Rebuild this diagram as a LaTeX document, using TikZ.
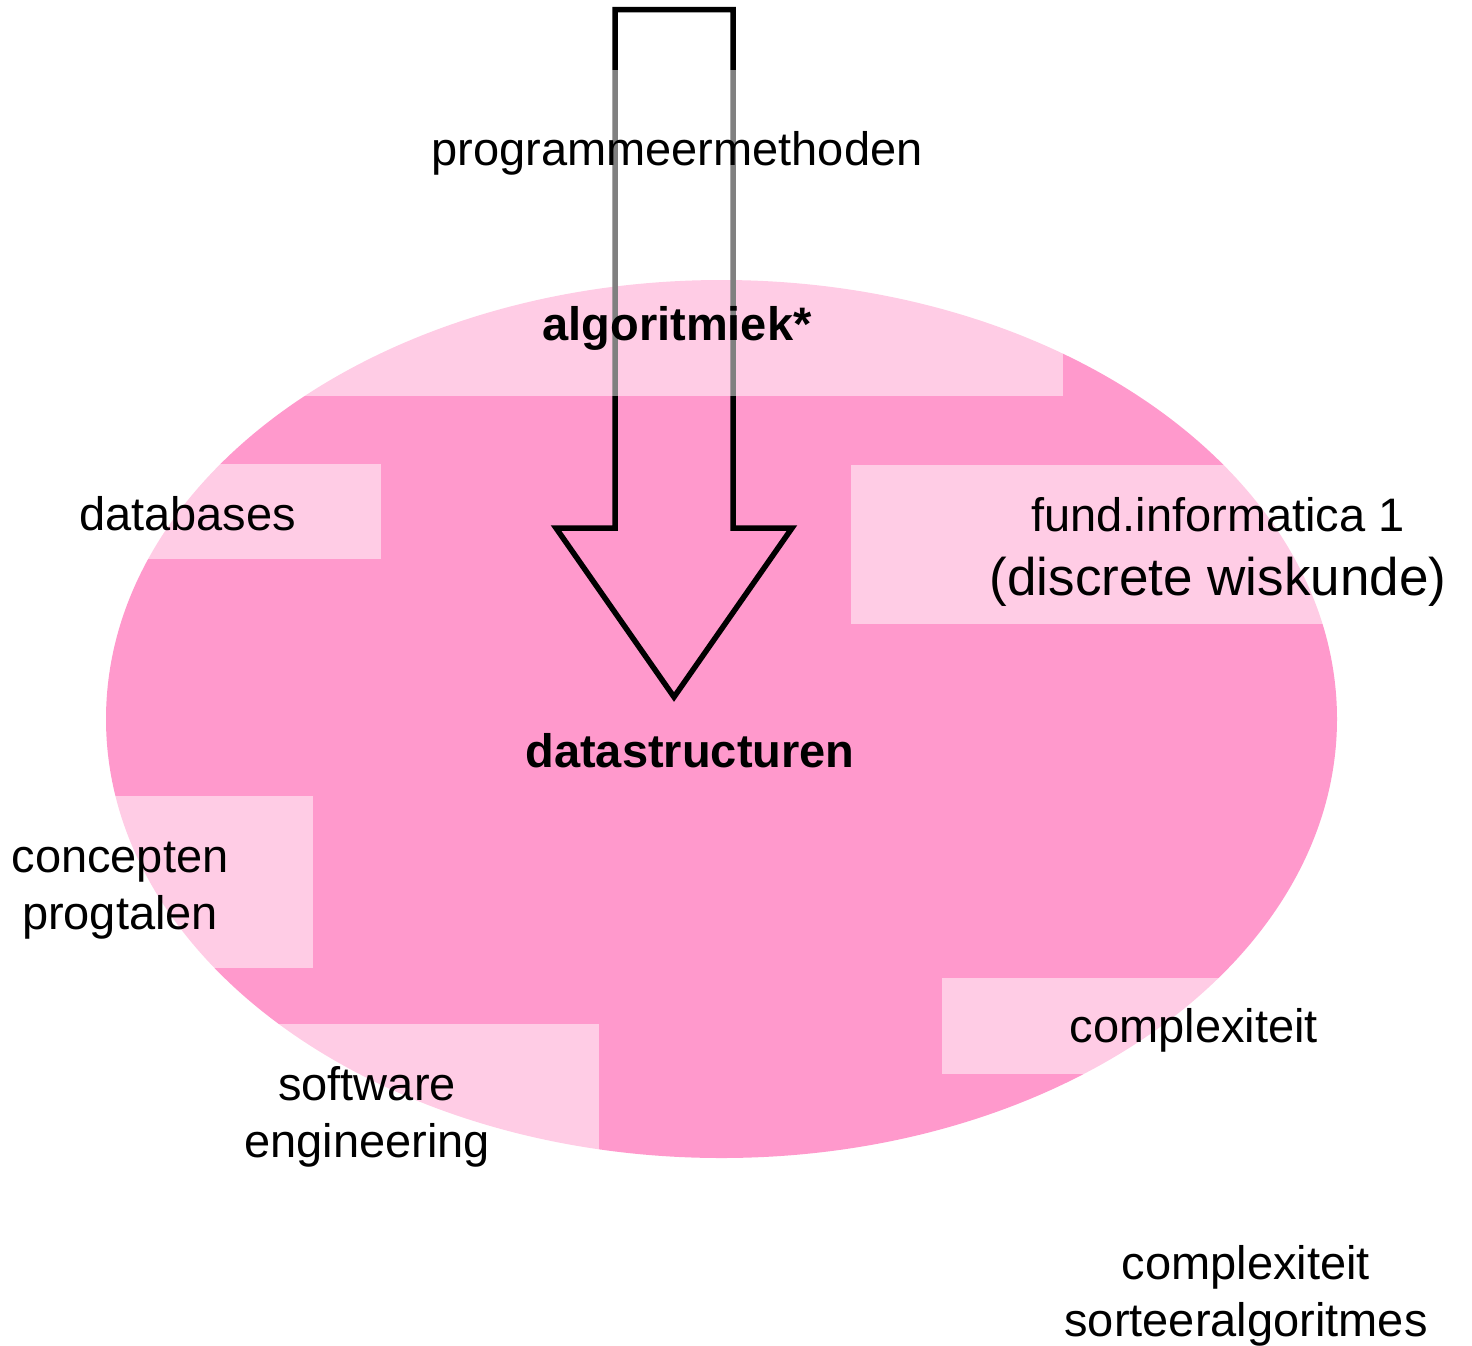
\documentclass[tikz,border=0pt]{standalone}
\usepackage{fontspec}
\setmainfont{Liberation Sans}
\definecolor{ellpink}{HTML}{FF99CC}
\begin{document}
\begin{tikzpicture}[x=1pt,y=-1pt,
  lbl/.style={inner sep=0pt,anchor=base,align=center,font=\fontsize{47}{57}\selectfont},
  bold lbl/.style={lbl,font=\fontsize{47}{57}\selectfont\bfseries},
  veil/.style={fill=white,fill opacity=0.5,draw=none},
  arrowline/.style={draw=black,line width=5.5pt,line join=miter}]
\useasboundingbox (0,0) rectangle (1472,1345);
% ellipse
\fill[ellpink] (721.5,719) ellipse [x radius=615.5, y radius=439];
% block arrow
\coordinate (tip) at (674,697);
\draw[arrowline] (615,528) -- (615,9.5) -- (733,9.5) -- (733,528) -- (792,528) -- (tip) -- (556,528) -- cycle;
% translucent label panels
\fill[veil] (250,70) rectangle (1063,396);
\fill[veil] (60,464) rectangle (381,559);
\fill[veil] (851,465) rectangle (1420,624);
\fill[veil] (60,796) rectangle (313,968);
\fill[veil] (200,1024) rectangle (599,1180);
\fill[veil] (942,978) rectangle (1360,1074);
% labels
\node[lbl] (prog) at (677,165) {programmeermethoden};
\node[bold lbl] (algo) at (677,340) {algoritmiek*};
\node[lbl] (db) at (187.5,530) {databases};
\node[lbl] (fund) at (1218,595) {fund.informatica 1\\[7pt]{\fontsize{53}{57}\selectfont (discrete wiskunde)}};
\node[bold lbl] (ds) at (690,767) {datastructuren};
\node[lbl] (conc) at (120,929) {concepten\\progtalen};
\node[lbl] (soft) at (367,1157) {software\\engineering};
\node[lbl] (cplx) at (1194,1042) {complexiteit};
\node[lbl] (sort) at (1246,1336) {complexiteit\\sorteeralgoritmes};
\end{tikzpicture}
\end{document}
